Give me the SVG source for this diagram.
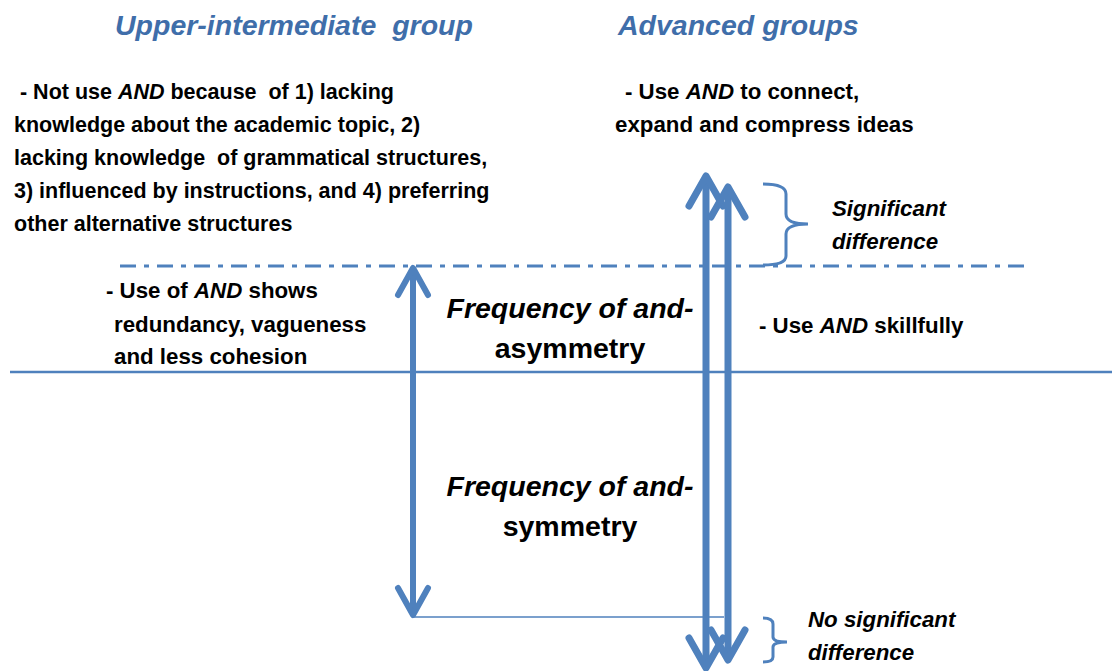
<svg xmlns="http://www.w3.org/2000/svg" width="1112" height="671" viewBox="0 0 1112 671">
<style>
.title{font-family:"Liberation Sans",Arial,sans-serif;font-weight:bold;font-style:italic;font-size:28.5px;fill:#3F6EAA}
.body{font-family:"Liberation Sans",Arial,sans-serif;font-weight:bold;font-size:22.3px;fill:#000}
.small{font-size:21.5px}
.big{font-family:"Liberation Sans",Arial,sans-serif;font-weight:bold;font-size:28.5px;fill:#000}
.it{font-style:italic}
.line{stroke:#4F81BD;fill:none}
.arrow{stroke:#4F81BD;fill:none;stroke-linecap:round;stroke-linejoin:round}
</style>
<rect width="1112" height="671" fill="#fff"/>
<g id="connectors">
<line class="line" x1="120" y1="266" x2="1032" y2="266" stroke-width="3" stroke-dasharray="16 8 5 8"/>
<line class="line" x1="10" y1="372" x2="1112" y2="372" stroke-width="2.5"/>
<line class="line" x1="413" y1="617" x2="724" y2="617" stroke-width="1.5"/>
<!-- left double arrow -->
<line class="arrow" x1="413" y1="272" x2="413" y2="611" stroke-width="6"/>
<path class="arrow" d="M398,295 L413,268 L428,295" stroke-width="6"/>
<path class="arrow" d="M398,588 L413,615 L428,588" stroke-width="6"/>
<!-- big arrow 1 -->
<line class="arrow" x1="706" y1="180" x2="706" y2="664" stroke-width="7"/>
<path class="arrow" d="M689,206 L706,176 L723,206" stroke-width="7"/>
<path class="arrow" d="M689,638 L706,668 L723,638" stroke-width="7"/>
<!-- big arrow 2 -->
<line class="arrow" x1="728" y1="190" x2="728" y2="656" stroke-width="7"/>
<path class="arrow" d="M711,217 L728,187 L745,217" stroke-width="7"/>
<path class="arrow" d="M711,630 L728,660 L745,630" stroke-width="7"/>
<!-- braces -->
<path class="line" stroke-width="3" d="M763,184 Q786,184 786,194 L786,214 Q786,224 808,224 Q786,224 786,234 L786,256 Q786,265 763,265"/>
<path class="line" stroke-width="3" d="M763,618 Q773,618 773,624 L773,637 Q773,642 787,642 Q773,642 773,647 L773,657 Q773,662 763,662"/>
</g>
<g id="title-upper">
<text class="title" x="115" y="35" xml:space="preserve">Upper-intermediate  group</text>
</g>
<g id="title-advanced">
<text class="title" x="618" y="35">Advanced groups</text>
</g>
<g id="upper-reasons">
<text class="body small" x="14" y="99" xml:space="preserve"> - Not use <tspan class="it">AND</tspan> because  of 1) lacking</text>
<text class="body small" x="14" y="132">knowledge about the academic topic, 2)</text>
<text class="body small" x="14" y="165" xml:space="preserve">lacking knowledge  of grammatical structures,</text>
<text class="body small" x="14" y="198">3) influenced by instructions, and 4) preferring</text>
<text class="body small" x="14" y="231">other alternative structures</text>
</g>
<g id="advanced-use">
<text class="body" x="625" y="99">- Use <tspan class="it">AND</tspan> to connect,</text>
<text class="body" x="615" y="132">expand and compress ideas</text>
</g>
<g id="upper-redundancy">
<text class="body" x="106" y="298">- Use of <tspan class="it">AND</tspan> shows</text>
<text class="body" x="114" y="332">redundancy, vagueness</text>
<text class="body" x="114" y="364">and less cohesion</text>
</g>
<g id="advanced-skill">
<text class="body" x="759" y="333">- Use <tspan class="it">AND</tspan> skillfully</text>
</g>
<g id="freq-asym">
<text class="big it" x="570" y="318" text-anchor="middle">Frequency of and-</text>
<text class="big" x="570" y="358" text-anchor="middle">asymmetry</text>
</g>
<g id="freq-sym">
<text class="big it" x="570" y="496" text-anchor="middle">Frequency of and-</text>
<text class="big" x="570" y="536" text-anchor="middle">symmetry</text>
</g>
<g id="sig-diff">
<text class="body it" x="832" y="216">Significant</text>
<text class="body it" x="832" y="249">difference</text>
</g>
<g id="no-sig-diff">
<text class="body it" x="808" y="627">No significant</text>
<text class="body it" x="808" y="660">difference</text>
</g>
</svg>
